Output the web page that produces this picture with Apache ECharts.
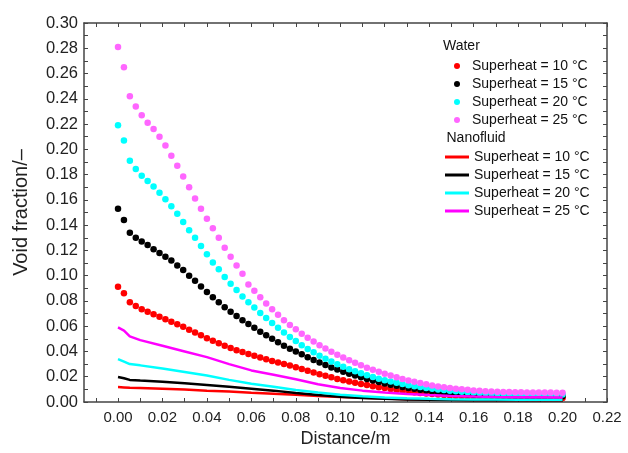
<!DOCTYPE html>
<html>
<head>
<meta charset="utf-8">
<script src="https://cdn.jsdelivr.net/npm/echarts@6/dist/echarts.min.js"></script>
<style>
  html, body { margin: 0; padding: 0; background: #fff; }
  #chart { width: 628px; height: 453px; }
</style>
</head>
<body>
<div id="chart"></div>
<script>
// x grid of the water (dot) series: 76 nodes over 0..0.20 m
const dotStep = 0.2 / 75
const dotX = Array.from({ length: 76 }, (_, i) => i * dotStep)

// water, void fraction
const water10 = [0.0913, 0.086, 0.079, 0.076, 0.0735, 0.0715, 0.0695, 0.0675, 0.0655, 0.0636,
  0.0615, 0.0596, 0.0572, 0.055, 0.0528, 0.0505, 0.0485, 0.0465, 0.0446, 0.0428,
  0.041, 0.0395, 0.038, 0.0366, 0.0352, 0.0338, 0.0325, 0.0312, 0.03, 0.0288,
  0.0276, 0.0262, 0.0248, 0.0233, 0.022, 0.0207, 0.0195, 0.0183, 0.0172, 0.0162,
  0.0152, 0.0143, 0.0134, 0.0125, 0.0117, 0.011, 0.0102, 0.0095, 0.0089, 0.0083,
  0.0077, 0.0072, 0.0067, 0.0063, 0.0059, 0.0055, 0.0052, 0.0049, 0.0046, 0.0044,
  0.0042, 0.004, 0.0038, 0.0037, 0.0036, 0.0035, 0.0034, 0.0033, 0.0033, 0.0032,
  0.0032, 0.0032, 0.0031, 0.0031, 0.0031, 0.0031]
const water15 = [0.153, 0.144, 0.134, 0.130, 0.127, 0.1243, 0.121, 0.118, 0.115, 0.112,
  0.108, 0.1045, 0.100, 0.096, 0.0915, 0.087, 0.083, 0.079, 0.075, 0.0715,
  0.068, 0.0648, 0.0617, 0.0587, 0.0557, 0.0528, 0.05, 0.0472, 0.0445, 0.0422,
  0.040, 0.0378, 0.0355, 0.0333, 0.0312, 0.0292, 0.0273, 0.0257, 0.024, 0.0224,
  0.0209, 0.0195, 0.0182, 0.017, 0.0158, 0.0147, 0.0137, 0.0128, 0.0119, 0.0111,
  0.0104, 0.0097, 0.0091, 0.0085, 0.008, 0.0075, 0.0071, 0.0067, 0.0064, 0.0061,
  0.0058, 0.0056, 0.0054, 0.0052, 0.0051, 0.005, 0.0049, 0.0048, 0.0047, 0.0047,
  0.0046, 0.0046, 0.0046, 0.0045, 0.0045, 0.0045]
const water20 = [0.219, 0.207, 0.191, 0.1845, 0.179, 0.175, 0.1705, 0.1657, 0.1605, 0.155,
  0.149, 0.1425, 0.136, 0.130, 0.1235, 0.117, 0.1105, 0.105, 0.099, 0.0937,
  0.0887, 0.0836, 0.079, 0.0748, 0.0705, 0.0665, 0.0625, 0.0587, 0.055, 0.0515,
  0.0482, 0.045, 0.042, 0.0393, 0.0367, 0.0343, 0.032, 0.0299, 0.0279, 0.026,
  0.0243, 0.0227, 0.0212, 0.0198, 0.0185, 0.0173, 0.0162, 0.0152, 0.0142, 0.0133,
  0.0125, 0.0118, 0.0111, 0.0105, 0.0099, 0.0094, 0.0089, 0.0085, 0.0081, 0.0078,
  0.0075, 0.0072, 0.007, 0.0068, 0.0066, 0.0065, 0.0064, 0.0063, 0.0062, 0.0062,
  0.0061, 0.0061, 0.006, 0.006, 0.006, 0.006]
const water25 = [0.281, 0.265, 0.242, 0.234, 0.227, 0.221, 0.216, 0.210, 0.203, 0.195,
  0.187, 0.1785, 0.170, 0.161, 0.153, 0.145, 0.1375, 0.130, 0.122, 0.115,
  0.108, 0.1015, 0.093, 0.088, 0.083, 0.078, 0.0735, 0.069, 0.0648, 0.061,
  0.0575, 0.054, 0.0508, 0.0478, 0.045, 0.0423, 0.0398, 0.0374, 0.0352, 0.0331,
  0.031, 0.029, 0.0272, 0.0255, 0.0239, 0.0224, 0.021, 0.0196, 0.0183, 0.0171,
  0.016, 0.015, 0.014, 0.0131, 0.0123, 0.0116, 0.011, 0.0105, 0.01, 0.0096,
  0.0092, 0.0089, 0.0086, 0.0084, 0.0082, 0.008, 0.0079, 0.0078, 0.0077, 0.0076,
  0.0076, 0.0075, 0.0075, 0.0075, 0.0074, 0.0074]

// nanofluid lines
const lineX = [0, 0.0027, 0.0053, 0.01, 0.02, 0.03, 0.04, 0.05, 0.06, 0.07, 0.08,
  0.09, 0.10, 0.11, 0.12, 0.13, 0.14, 0.15, 0.16, 0.17, 0.18, 0.19, 0.20]
const nano10 = [0.0118, 0.0115, 0.0112, 0.011, 0.0105, 0.0098, 0.009, 0.0083, 0.0074, 0.0066, 0.0057,
  0.0048, 0.004, 0.0033, 0.0027, 0.0022, 0.0019, 0.0017, 0.0016, 0.0015, 0.0015, 0.0015, 0.0015]
const nano15 = [0.0198, 0.0188, 0.0175, 0.017, 0.016, 0.0148, 0.0135, 0.012, 0.0105, 0.009, 0.0072,
  0.0055, 0.0042, 0.0032, 0.0025, 0.002, 0.0017, 0.0015, 0.0014, 0.0013, 0.0013, 0.0013, 0.0013]
const nano20 = [0.034, 0.032, 0.030, 0.029, 0.0265, 0.0238, 0.021, 0.0175, 0.0145, 0.012, 0.0095,
  0.0075, 0.0057, 0.0045, 0.0035, 0.0029, 0.0025, 0.0022, 0.002, 0.0019, 0.0018, 0.0018, 0.0018]
const nano25 = [0.059, 0.0565, 0.052, 0.049, 0.0445, 0.040, 0.0355, 0.030, 0.025, 0.0215, 0.018,
  0.014, 0.011, 0.009, 0.0075, 0.0063, 0.0055, 0.0048, 0.0043, 0.004, 0.0038, 0.0037, 0.0036]

const xTickLabels = ['0.00', '0.02', '0.04', '0.06', '0.08', '0.10', '0.12', '0.14', '0.16', '0.18', '0.20', '0.22']
const superheats = ['Superheat = 10 °C', 'Superheat = 15 °C', 'Superheat = 20 °C', 'Superheat = 25 °C']

const dotColors = ['#ff0000', '#000000', '#00ffff', '#ff66ff']
const lineColors = ['#ff0000', '#000000', '#00ffff', '#ff00ff']

const waterSets = [water10, water15, water20, water25]
const nanoSets = [nano10, nano15, nano20, nano25]

const xLabelValues = xTickLabels.map(Number)
// inner ticks every 0.01 (major + minor)
const xTickValues = []
for (let k = -1; k <= 22; k++) xTickValues.push(+(k * 0.01).toFixed(2))
const yTickValues = []
for (let k = 0; k <= 30; k++) yTickValues.push(+(k * 0.01).toFixed(2))

const font = "'Liberation Sans', Arial, sans-serif"
const axisColor = '#444'

const chart = echarts.init(document.getElementById('chart'))

const series = []
waterSets.forEach((arr, s) => {
  series.push({
    name: 'w' + s,
    type: 'scatter',
    symbol: 'circle',
    symbolSize: 6.5,
    itemStyle: { color: dotColors[s], opacity: 1 },
    data: arr.map((v, i) => [dotX[i], v]),
    z: 2
  })
})
nanoSets.forEach((arr, s) => {
  series.push({
    name: 'n' + s,
    type: 'line',
    showSymbol: false,
    symbol: 'none',
    lineStyle: { color: lineColors[s], width: 2.5 },
    itemStyle: { color: lineColors[s] },
    data: arr.map((v, i) => [lineX[i], v]),
    z: 3
  })
})

const baseX = {
  type: 'value',
  min: -0.0153,
  max: 0.22,
  splitLine: { show: false },
  axisLine: { show: true, onZero: false, lineStyle: { color: axisColor, width: 1.5 } },
  axisTick: { show: true, inside: true, length: 4, customValues: xTickValues, lineStyle: { color: axisColor } }
}
const baseY = {
  type: 'value',
  min: 0,
  max: 0.30,
  interval: 0.02,
  splitLine: { show: false },
  axisLine: { show: true, onZero: false, lineStyle: { color: axisColor, width: 1.5 } },
  axisTick: { show: true, inside: true, length: 4, customValues: yTickValues, lineStyle: { color: axisColor } }
}

const legendText = { fontSize: 14, lineHeight: 14, color: '#111', fontFamily: font }

const option = {
  animation: false,
  textStyle: { fontFamily: font },
  grid: { left: 84, right: 21, top: 23, bottom: 51 },
  xAxis: [
    Object.assign({}, baseX, {
      position: 'bottom',
      name: 'Distance/m',
      nameLocation: 'middle',
      nameGap: 28,
      nameTextStyle: { fontSize: 18, color: '#222', fontFamily: font },
      axisLabel: {
        customValues: xLabelValues,
        margin: 8,
        fontSize: 15,
        color: '#222',
        fontFamily: font,
        formatter: v => v.toFixed(2)
      }
    }),
    Object.assign({}, baseX, { position: 'top', axisLabel: { show: false } })
  ],
  yAxis: [
    Object.assign({}, baseY, {
      position: 'left',
      name: 'Void fraction/–',
      nameLocation: 'middle',
      nameGap: 53,
      nameTextStyle: { fontSize: 20, color: '#222', fontFamily: font },
      axisLabel: {
        margin: 6,
        fontSize: 16.5,
        color: '#222',
        fontFamily: font,
        formatter: v => v.toFixed(2)
      }
    }),
    Object.assign({}, baseY, { position: 'right', axisLabel: { show: false } })
  ],
  legend: [
    {
      data: ['w0', 'w1', 'w2', 'w3'],
      orient: 'vertical',
      left: 454,
      top: 59,
      padding: 0,
      icon: 'circle',
      itemWidth: 20,
      itemHeight: 6,
      itemGap: 4,
      selectedMode: false,
      formatter: name => superheats[+name.slice(1)],
      textStyle: legendText
    },
    {
      data: ['n0', 'n1', 'n2', 'n3'],
      orient: 'vertical',
      left: 445,
      top: 150,
      padding: 0,
      icon: 'rect',
      itemWidth: 24,
      itemHeight: 3,
      itemGap: 4,
      selectedMode: false,
      formatter: name => superheats[+name.slice(1)],
      textStyle: legendText
    }
  ],
  graphic: [
    { type: 'text', left: 443, top: 39, style: { text: 'Water', fontSize: 14, fill: '#111', fontFamily: font } },
    { type: 'text', left: 446.5, top: 131, style: { text: 'Nanofluid', fontSize: 14, fill: '#111', fontFamily: font } }
  ],
  series: series
}

chart.setOption(option)
</script>
</body>
</html>
